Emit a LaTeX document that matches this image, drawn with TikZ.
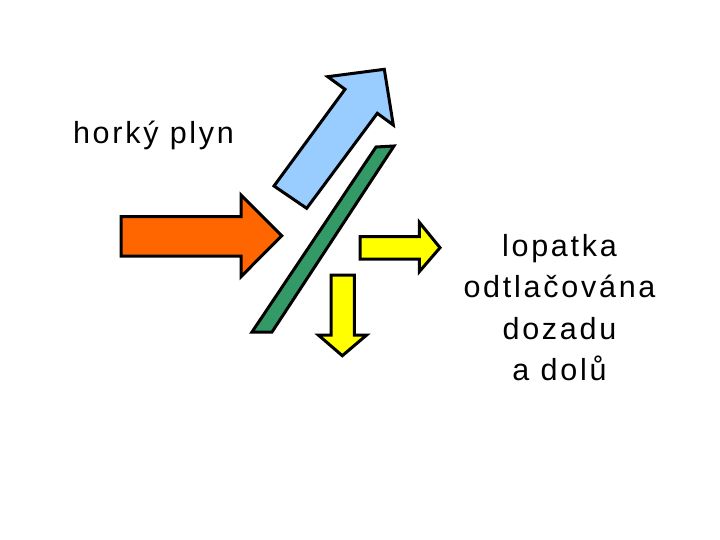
\documentclass[tikz,border=0pt]{standalone}
\usepackage{fontspec}
\setmainfont{Liberation Sans}
\newfontfamily\lblfont[LetterSpace=9]{Liberation Sans}
\definecolor{skyblue}{HTML}{99CCFF}
\definecolor{hotorange}{HTML}{FF6600}
\definecolor{bladegreen}{HTML}{339966}
\definecolor{pushyellow}{HTML}{FFFF00}
\begin{document}
\begin{tikzpicture}[x=1pt,y=-1pt,
  shape outline/.style={draw=black,line width=3pt,line join=miter},
  lbl/.style={font=\lblfont\fontsize{30.5}{41.5}\selectfont,text=black,inner sep=0pt,anchor=base}]
\useasboundingbox (0,0) rectangle (720,540);
% hot gas arrow (orange)
\filldraw[shape outline,fill=hotorange] (121,216.7) -- (241,216.7) -- (241,195) -- (281.7,235.7) -- (241,276.7) -- (241,256) -- (121,256) -- cycle;
% deflected gas arrow (blue)
\filldraw[shape outline,fill=skyblue] (274,186) -- (345,89.3) -- (327.7,76.7) -- (384.3,69.3) -- (393.3,125) -- (377.3,113.3) -- (306.7,208.3) -- cycle;
% blade (green)
\filldraw[shape outline,fill=bladegreen] (252,332) -- (272,332) -- (394,146) -- (376,147) -- cycle;
% force arrows (yellow)
\filldraw[shape outline,fill=pushyellow] (360,236.7) -- (419.3,236.7) -- (419.3,222.3) -- (440,247.7) -- (419.3,271.7) -- (419.3,259) -- (360,259) -- cycle;
\filldraw[shape outline,fill=pushyellow] (331,275) -- (354.3,275) -- (354.3,335) -- (366.7,335) -- (342.3,355.7) -- (318.3,335) -- (331,335) -- cycle;
% texts
\node[lbl] (gas) at (153.5,143.3) {horký plyn};
\node[lbl] (t1) at (559.5,256) {lopatka};
\node[lbl] (t2) at (559.5,297.7) {odtlačována};
\node[lbl] (t3) at (559.5,339) {dozadu};
\node[lbl] (t4) at (559.5,380) {a dolů};
\end{tikzpicture}
\end{document}
